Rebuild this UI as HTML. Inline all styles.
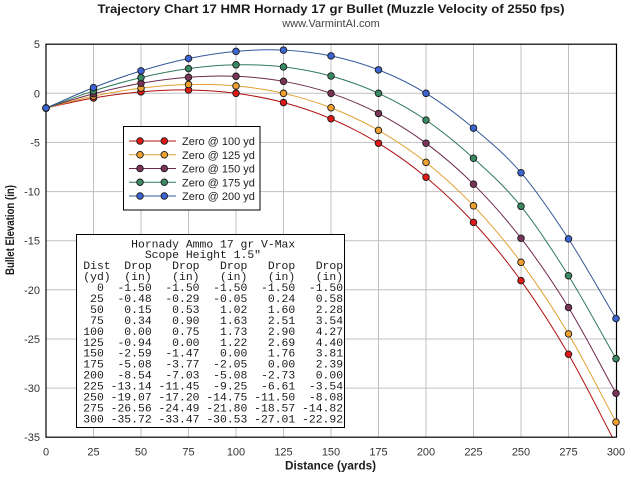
<!DOCTYPE html>
<html>
<head>
<meta charset="utf-8">
<style>
  html, body { margin:0; padding:0; background:#ffffff; }
  svg { display:block; }
  .t { font-family:"Liberation Sans", Arial, sans-serif; }
  .m { font-family:"Liberation Mono", "DejaVu Sans Mono", monospace; font-size:11.4px; fill:#1a1a1a; }
</style>
</head>
<body>
<svg width="640" height="480" viewBox="0 0 640 480" xmlns="http://www.w3.org/2000/svg">
  <rect x="0" y="0" width="640" height="480" fill="#ffffff"/>

  <!-- Titles -->
  <text class="t" x="97.5" y="13" font-size="12" font-weight="bold" fill="#1a1a1a" textLength="467" lengthAdjust="spacingAndGlyphs">Trajectory Chart 17 HMR Hornady 17 gr Bullet (Muzzle Velocity of 2550 fps)</text>
  <text class="t" x="331" y="27" font-size="11" fill="#444" text-anchor="middle">www.VarmintAI.com</text>

  <!-- Grid -->
  <g stroke="#c0c0c0" stroke-width="1">
    <line x1="93.5" y1="44" x2="93.5" y2="437"/>
    <line x1="141" y1="44" x2="141" y2="437"/>
    <line x1="188.5" y1="44" x2="188.5" y2="437"/>
    <line x1="236" y1="44" x2="236" y2="437"/>
    <line x1="283.5" y1="44" x2="283.5" y2="437"/>
    <line x1="331" y1="44" x2="331" y2="437"/>
    <line x1="378.5" y1="44" x2="378.5" y2="437"/>
    <line x1="426" y1="44" x2="426" y2="437"/>
    <line x1="473.5" y1="44" x2="473.5" y2="437"/>
    <line x1="521" y1="44" x2="521" y2="437"/>
    <line x1="568.5" y1="44" x2="568.5" y2="437"/>
    <line x1="46" y1="93.3" x2="616" y2="93.3"/>
    <line x1="46" y1="142.4" x2="616" y2="142.4"/>
    <line x1="46" y1="191.6" x2="616" y2="191.6"/>
    <line x1="46" y1="240.7" x2="616" y2="240.7"/>
    <line x1="46" y1="289.8" x2="616" y2="289.8"/>
    <line x1="46" y1="339" x2="616" y2="339"/>
    <line x1="46" y1="388.1" x2="616" y2="388.1"/>
  </g>

  <defs>
    <clipPath id="pc"><rect x="46" y="44.2" width="570.5" height="393"/></clipPath>
  </defs>

  <!-- Curves -->
  <g clip-path="url(#pc)" fill="none" stroke-width="1">
    <path stroke="#b01010" d="M46,108.04 C61.83,104.70 77.67,100.72 93.5,98.02 C109.33,95.31 125.17,93.17 141,91.83 C156.83,90.48 172.67,89.71 188.5,89.96 C204.33,90.21 220.17,91.20 236,93.3 C251.83,95.40 267.67,98.29 283.5,102.54 C299.33,106.78 315.17,111.97 331,118.75 C346.83,125.53 362.67,133.47 378.5,143.21 C394.33,152.95 410.17,164.01 426,177.21 C441.83,190.40 457.67,205.16 473.5,222.40 C489.33,239.64 505.17,258.69 521,280.66 C536.83,302.64 552.67,326.99 568.5,354.25 C584.33,381.51 600.17,414.24 616,444.25"/>
    <path stroke="#e0a030" d="M46,108.04 C61.83,104.07 77.67,99.47 93.5,96.15 C109.33,92.83 125.17,90.04 141,88.09 C156.83,86.14 172.67,84.82 188.5,84.46 C204.33,84.10 220.17,84.46 236,85.93 C251.83,87.41 267.67,89.66 283.5,93.3 C299.33,96.94 315.17,101.57 331,107.74 C346.83,113.92 362.67,121.24 378.5,130.34 C394.33,139.44 410.17,149.79 426,162.37 C441.83,174.95 457.67,189.14 473.5,205.80 C489.33,222.45 505.17,240.94 521,262.29 C536.83,283.64 552.67,307.27 568.5,333.91 C584.33,360.56 600.17,392.73 616,422.14"/>
    <path stroke="#6e2a4e" d="M46,108.04 C61.83,103.29 77.67,97.92 93.5,93.79 C109.33,89.66 125.17,86.03 141,83.28 C156.83,80.53 172.67,78.45 188.5,77.29 C204.33,76.12 220.17,75.63 236,76.30 C251.83,76.97 267.67,78.48 283.5,81.31 C299.33,84.15 315.17,87.95 331,93.3 C346.83,98.65 362.67,105.12 378.5,113.44 C394.33,121.76 410.17,131.42 426,143.21 C441.83,155.00 457.67,168.35 473.5,184.18 C489.33,200.02 505.17,217.67 521,238.22 C536.83,258.77 552.67,281.65 568.5,307.49 C584.33,333.32 600.17,364.67 616,393.26"/>
    <path stroke="#2f7a58" d="M46,108.04 C61.83,102.34 77.67,96.02 93.5,90.94 C109.33,85.87 125.17,81.30 141,77.58 C156.83,73.86 172.67,70.77 188.5,68.64 C204.33,66.51 220.17,65.10 236,64.81 C251.83,64.51 267.67,65.00 283.5,66.87 C299.33,68.74 315.17,71.60 331,76.01 C346.83,80.41 362.67,85.95 378.5,93.3 C394.33,100.65 410.17,109.30 426,120.12 C441.83,130.95 457.67,143.88 473.5,158.24 C489.33,172.60 505.17,186.70 521,206.29 C536.83,225.87 552.67,250.35 568.5,275.75 C584.33,301.15 600.17,331.03 616,358.67"/>
    <path stroke="#34589a" d="M46,108.04 C61.83,101.23 77.67,93.79 93.5,87.60 C109.33,81.41 125.17,75.75 141,70.90 C156.83,66.05 172.67,61.78 188.5,58.52 C204.33,55.26 220.17,52.75 236,51.35 C251.83,49.94 267.67,49.32 283.5,50.07 C299.33,50.82 315.17,52.58 331,55.87 C346.83,59.16 362.67,63.58 378.5,69.82 C394.33,76.06 410.17,83.59 426,93.3 C441.83,103.01 457.67,114.85 473.5,128.08 C489.33,141.31 505.17,154.22 521,172.69 C536.83,191.16 552.67,214.61 568.5,238.91 C584.33,263.21 600.17,291.96 616,318.49"/>
  </g>

  <!-- Plot border -->
  <rect x="46" y="44.2" width="570.5" height="393" fill="none" stroke="#000" stroke-width="1.2"/>

  <!-- Markers -->
  <g stroke="#1a1a1a" stroke-width="0.9">
    <g fill="#e01818">
      <circle cx="46" cy="108.04" r="3.3"/><circle cx="93.5" cy="98.02" r="3.3"/><circle cx="141" cy="91.83" r="3.3"/><circle cx="188.5" cy="89.96" r="3.3"/><circle cx="236" cy="93.3" r="3.3"/><circle cx="283.5" cy="102.54" r="3.3"/><circle cx="331" cy="118.75" r="3.3"/><circle cx="378.5" cy="143.21" r="3.3"/><circle cx="426" cy="177.21" r="3.3"/><circle cx="473.5" cy="222.40" r="3.3"/><circle cx="521" cy="280.66" r="3.3"/><circle cx="568.5" cy="354.25" r="3.3"/>
    </g>
    <g fill="#f0a030">
      <circle cx="46" cy="108.04" r="3.3"/><circle cx="93.5" cy="96.15" r="3.3"/><circle cx="141" cy="88.09" r="3.3"/><circle cx="188.5" cy="84.46" r="3.3"/><circle cx="236" cy="85.93" r="3.3"/><circle cx="283.5" cy="93.3" r="3.3"/><circle cx="331" cy="107.74" r="3.3"/><circle cx="378.5" cy="130.34" r="3.3"/><circle cx="426" cy="162.37" r="3.3"/><circle cx="473.5" cy="205.80" r="3.3"/><circle cx="521" cy="262.29" r="3.3"/><circle cx="568.5" cy="333.91" r="3.3"/><circle cx="616" cy="422.14" r="3.3"/>
    </g>
    <g fill="#7a3458">
      <circle cx="46" cy="108.04" r="3.3"/><circle cx="93.5" cy="93.79" r="3.3"/><circle cx="141" cy="83.28" r="3.3"/><circle cx="188.5" cy="77.29" r="3.3"/><circle cx="236" cy="76.30" r="3.3"/><circle cx="283.5" cy="81.31" r="3.3"/><circle cx="331" cy="93.3" r="3.3"/><circle cx="378.5" cy="113.44" r="3.3"/><circle cx="426" cy="143.21" r="3.3"/><circle cx="473.5" cy="184.18" r="3.3"/><circle cx="521" cy="238.22" r="3.3"/><circle cx="568.5" cy="307.49" r="3.3"/><circle cx="616" cy="393.26" r="3.3"/>
    </g>
    <g fill="#3a8a64">
      <circle cx="46" cy="108.04" r="3.3"/><circle cx="93.5" cy="90.94" r="3.3"/><circle cx="141" cy="77.58" r="3.3"/><circle cx="188.5" cy="68.64" r="3.3"/><circle cx="236" cy="64.81" r="3.3"/><circle cx="283.5" cy="66.87" r="3.3"/><circle cx="331" cy="76.01" r="3.3"/><circle cx="378.5" cy="93.3" r="3.3"/><circle cx="426" cy="120.12" r="3.3"/><circle cx="473.5" cy="158.24" r="3.3"/><circle cx="521" cy="206.29" r="3.3"/><circle cx="568.5" cy="275.75" r="3.3"/><circle cx="616" cy="358.67" r="3.3"/>
    </g>
    <g fill="#3c64d2">
      <circle cx="46" cy="108.04" r="3.3"/><circle cx="93.5" cy="87.60" r="3.3"/><circle cx="141" cy="70.90" r="3.3"/><circle cx="188.5" cy="58.52" r="3.3"/><circle cx="236" cy="51.35" r="3.3"/><circle cx="283.5" cy="50.07" r="3.3"/><circle cx="331" cy="55.87" r="3.3"/><circle cx="378.5" cy="69.82" r="3.3"/><circle cx="426" cy="93.3" r="3.3"/><circle cx="473.5" cy="128.08" r="3.3"/><circle cx="521" cy="172.69" r="3.3"/><circle cx="568.5" cy="238.91" r="3.3"/><circle cx="616" cy="318.49" r="3.3"/>
    </g>
  </g>

  <!-- Legend -->
  <rect x="123.5" y="126.5" width="136.5" height="83.5" fill="#ffffff" stroke="#000" stroke-width="1"/>
  <g stroke-width="1">
    <line x1="129" y1="141" x2="176" y2="141" stroke="#b01010"/>
    <line x1="129" y1="154.75" x2="176" y2="154.75" stroke="#e0a030"/>
    <line x1="129" y1="168.5" x2="176" y2="168.5" stroke="#6e2a4e"/>
    <line x1="129" y1="182.25" x2="176" y2="182.25" stroke="#2f7a58"/>
    <line x1="129" y1="196" x2="176" y2="196" stroke="#34589a"/>
  </g>
  <g stroke="#1a1a1a" stroke-width="0.9">
    <circle cx="140" cy="141" r="3.3" fill="#e01818"/><circle cx="164.3" cy="141" r="3.3" fill="#e01818"/>
    <circle cx="140" cy="154.75" r="3.3" fill="#f0a030"/><circle cx="164.3" cy="154.75" r="3.3" fill="#f0a030"/>
    <circle cx="140" cy="168.5" r="3.3" fill="#7a3458"/><circle cx="164.3" cy="168.5" r="3.3" fill="#7a3458"/>
    <circle cx="140" cy="182.25" r="3.3" fill="#3a8a64"/><circle cx="164.3" cy="182.25" r="3.3" fill="#3a8a64"/>
    <circle cx="140" cy="196" r="3.3" fill="#3c64d2"/><circle cx="164.3" cy="196" r="3.3" fill="#3c64d2"/>
  </g>
  <g class="t" font-size="11" fill="#222">
    <text x="182" y="145">Zero @ 100 yd</text>
    <text x="182" y="158.75">Zero @ 125 yd</text>
    <text x="182" y="172.5">Zero @ 150 yd</text>
    <text x="182" y="186.25">Zero @ 175 yd</text>
    <text x="182" y="200">Zero @ 200 yd</text>
  </g>

  <!-- Data table -->
  <rect x="76.5" y="234.5" width="268" height="193" fill="#ffffff" stroke="#000" stroke-width="1"/>
  <g class="m">
    <text x="83.3" y="247.3" xml:space="preserve">       Hornady Ammo 17 gr V-Max</text>
    <text x="83.3" y="258.24" xml:space="preserve">         Scope Height 1.5"</text>
    <text x="83.3" y="269.18" xml:space="preserve">Dist  Drop   Drop   Drop   Drop   Drop</text>
    <text x="83.3" y="280.12" xml:space="preserve">(yd)  (in)   (in)   (in)   (in)   (in)</text>
    <text x="83.3" y="291.06" xml:space="preserve">  0  -1.50  -1.50  -1.50  -1.50  -1.50</text>
    <text x="83.3" y="302.0" xml:space="preserve"> 25  -0.48  -0.29  -0.05   0.24   0.58</text>
    <text x="83.3" y="312.94" xml:space="preserve"> 50   0.15   0.53   1.02   1.60   2.28</text>
    <text x="83.3" y="323.88" xml:space="preserve"> 75   0.34   0.90   1.63   2.51   3.54</text>
    <text x="83.3" y="334.82" xml:space="preserve">100   0.00   0.75   1.73   2.90   4.27</text>
    <text x="83.3" y="345.76" xml:space="preserve">125  -0.94   0.00   1.22   2.69   4.40</text>
    <text x="83.3" y="356.7" xml:space="preserve">150  -2.59  -1.47   0.00   1.76   3.81</text>
    <text x="83.3" y="367.64" xml:space="preserve">175  -5.08  -3.77  -2.05   0.00   2.39</text>
    <text x="83.3" y="378.58" xml:space="preserve">200  -8.54  -7.03  -5.08  -2.73   0.00</text>
    <text x="83.3" y="389.52" xml:space="preserve">225 -13.14 -11.45  -9.25  -6.61  -3.54</text>
    <text x="83.3" y="400.46" xml:space="preserve">250 -19.07 -17.20 -14.75 -11.50  -8.08</text>
    <text x="83.3" y="411.4" xml:space="preserve">275 -26.56 -24.49 -21.80 -18.57 -14.82</text>
    <text x="83.3" y="422.34" xml:space="preserve">300 -35.72 -33.47 -30.53 -27.01 -22.92</text>
  </g>

  <!-- Y tick labels -->
  <g class="t" font-size="11" fill="#333" text-anchor="end">
    <text x="40" y="48">5</text>
    <text x="40" y="97.3">0</text>
    <text x="40" y="146.4">-5</text>
    <text x="40" y="195.6">-10</text>
    <text x="40" y="244.7">-15</text>
    <text x="40" y="293.8">-20</text>
    <text x="40" y="343">-25</text>
    <text x="40" y="392.1">-30</text>
    <text x="40" y="441.2">-35</text>
  </g>

  <!-- X tick labels -->
  <g class="t" font-size="11" fill="#333" text-anchor="middle">
    <text x="46" y="455.5">0</text>
    <text x="93.5" y="455.5">25</text>
    <text x="141" y="455.5">50</text>
    <text x="188.5" y="455.5">75</text>
    <text x="236" y="455.5">100</text>
    <text x="283.5" y="455.5">125</text>
    <text x="331" y="455.5">150</text>
    <text x="378.5" y="455.5">175</text>
    <text x="426" y="455.5">200</text>
    <text x="473.5" y="455.5">225</text>
    <text x="521" y="455.5">250</text>
    <text x="568.5" y="455.5">275</text>
    <text x="616" y="455.5">300</text>
  </g>

  <!-- Axis titles -->
  <text class="t" x="285" y="469.3" font-size="12" font-weight="bold" fill="#1a1a1a" textLength="91" lengthAdjust="spacingAndGlyphs">Distance (yards)</text>
  <text class="t" transform="translate(14,230) rotate(-90)" x="0" y="0" font-size="12" font-weight="bold" fill="#1a1a1a" text-anchor="middle" textLength="90" lengthAdjust="spacingAndGlyphs">Bullet Elevation (in)</text>
</svg>
</body>
</html>
